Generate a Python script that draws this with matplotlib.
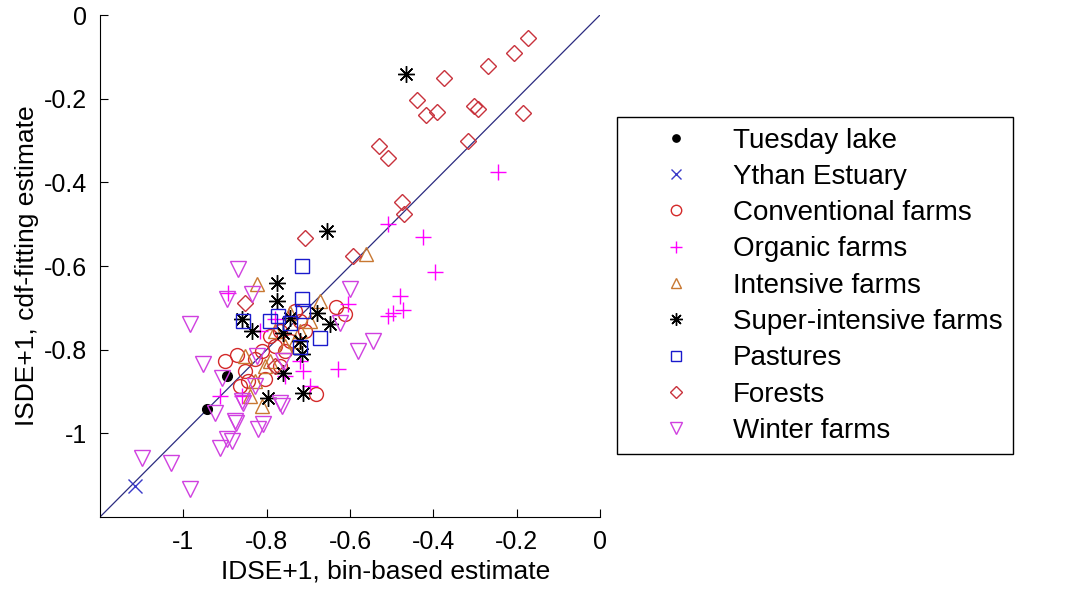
import matplotlib
matplotlib.use("Agg")
from matplotlib import pyplot as plt
import numpy as np

plt.rcParams['font.family'] = ['Liberation Sans', 'DejaVu Sans']

# (bin-based estimate, cdf-fitting estimate) pairs per group
tuesday_x = [-0.942, -0.894]
tuesday_y = [-0.942, -0.863]

ythan_x = [-1.117]
ythan_y = [-1.127]

conv_x = [-0.899, -0.870, -0.851, -0.827, -0.811, -0.791, -0.767, -0.743, -0.719, -0.707,
          -0.731, -0.681, -0.633, -0.612, -0.844, -0.803, -0.767, -0.863, -0.779, -0.755]
conv_y = [-0.827, -0.813, -0.851, -0.823, -0.803, -0.767, -0.755, -0.779, -0.731, -0.755,
          -0.707, -0.906, -0.698, -0.715, -0.875, -0.871, -0.839, -0.887, -0.791, -0.803]

org_x = [-0.245, -0.424, -0.508, -0.396, -0.480, -0.472, -0.508, -0.496, -0.628, -0.712,
         -0.604, -0.892, -0.719, -0.815, -0.779, -0.859, -0.695, -0.755, -0.911]
org_y = [-0.376, -0.530, -0.499, -0.614, -0.671, -0.705, -0.719, -0.712, -0.847, -0.851,
         -0.691, -0.664, -0.827, -0.755, -0.727, -0.911, -0.887, -0.863, -0.911]

int_x = [-0.823, -0.561, -0.811, -0.827, -0.791, -0.755, -0.719, -0.695, -0.743, -0.803,
         -0.779, -0.851, -0.731, -0.839, -0.671]
int_y = [-0.643, -0.571, -0.935, -0.875, -0.827, -0.791, -0.755, -0.731, -0.712, -0.839,
         -0.755, -0.815, -0.779, -0.911, -0.683]

sup_x = [-0.465, -0.655, -0.775, -0.775, -0.859, -0.835, -0.760, -0.679, -0.647, -0.743,
         -0.715, -0.712, -0.760, -0.796, -0.719]
sup_y = [-0.141, -0.516, -0.640, -0.683, -0.727, -0.755, -0.760, -0.712, -0.739, -0.724,
         -0.811, -0.904, -0.856, -0.916, -0.779]

past_x = [-0.715, -0.715, -0.712, -0.671, -0.719, -0.856, -0.791, -0.772, -0.743]
past_y = [-0.600, -0.679, -0.707, -0.772, -0.794, -0.731, -0.731, -0.719, -0.736]

for_x = [-0.173, -0.206, -0.269, -0.374, -0.439, -0.417, -0.391, -0.302, -0.293, -0.185,
         -0.317, -0.530, -0.508, -0.475, -0.470, -0.707, -0.592, -0.851, -0.779]
for_y = [-0.055, -0.091, -0.122, -0.151, -0.204, -0.240, -0.233, -0.218, -0.225, -0.235,
         -0.300, -0.312, -0.341, -0.448, -0.475, -0.532, -0.576, -0.688, -0.839]

win_x = [-0.868, -0.983, -0.952, -0.894, -0.906, -1.098, -1.029, -0.983, -0.873, -0.911,
         -0.894, -0.882, -0.820, -0.808, -0.923, -0.856, -0.763, -0.600, -0.624, -0.544,
         -0.580, -0.859, -0.875, -0.827, -0.767, -0.760, -0.823, -0.835]
win_y = [-0.607, -0.739, -0.835, -0.679, -0.868, -1.060, -1.072, -1.134, -0.976, -1.036,
         -1.014, -1.019, -0.990, -0.978, -0.952, -0.928, -0.935, -0.655, -0.736, -0.779,
         -0.803, -0.923, -0.971, -0.887, -0.928, -0.827, -0.815, -0.667]

ticks = [-1, -0.8, -0.6, -0.4, -0.2, 0]
tick_labels = ['-1', '-0.8', '-0.6', '-0.4', '-0.2', '0']

fig = plt.figure(figsize=(10.82, 5.91), dpi=100)
ax = fig.add_axes([0.0924, 0.1252, 0.4621, 0.8494])

ms = 10
star = (8, 2, 0)  # matlab-style asterisk
ax.plot([-1.2, 0], [-1.2, 0], color='#2b2b80', lw=0.9, zorder=1)
ax.plot(tuesday_x, tuesday_y, 'o', color='black', mfc='black', ms=7, label='Tuesday lake')
ax.plot(ythan_x, ythan_y, 'x', color='#3a3ac8', ms=ms, mew=1, label='Ythan Estuary')
ax.plot(conv_x, conv_y, 'o', color='#d42a2a', mfc='none', ms=ms, mew=1, label='Conventional farms')
ax.plot(org_x, org_y, '+', color='#ff00ff', ms=ms + 2, mew=1, label='Organic farms')
ax.plot(int_x, int_y, '^', color='#c87832', mfc='none', ms=ms, mew=1, label='Intensive farms')
ax.plot(sup_x, sup_y, marker=star, ls='none', color='black', ms=ms + 2, mew=1, label='Super-intensive farms')
ax.plot(past_x, past_y, 's', color='#1a1acc', mfc='none', ms=ms, mew=1, label='Pastures')
ax.plot(for_x, for_y, 'D', color='#c8323c', mfc='none', ms=ms - 2, mew=1, label='Forests')
ax.plot(win_x, win_y, 'v', color='#d040e0', mfc='none', ms=ms + 1, mew=1, label='Winter farms')

ax.set_xlim(-1.2, 0)
ax.set_ylim(-1.2, 0)
ax.set_xticks(ticks)
ax.set_xticklabels(tick_labels)
ax.set_yticks(ticks)
ax.set_yticklabels(tick_labels)
ax.tick_params(direction='in', labelsize=18, length=6, pad=9)
ax.spines['top'].set_visible(False)
ax.spines['right'].set_visible(False)
ax.set_xlabel('IDSE+1, bin-based estimate', fontsize=19)
ax.set_ylabel('ISDE+1, cdf-fitting estimate', fontsize=19, labelpad=4)
ax.xaxis.set_label_coords(0.572, -0.085)

leg = ax.legend(loc='upper left', bbox_to_anchor=(0.570, 0.802), bbox_transform=fig.transFigure,
                borderaxespad=0, fancybox=False, edgecolor='black', framealpha=1,
                fontsize=20, markerscale=0.75, labelspacing=0.37, handletextpad=0.3,
                borderpad=0.38, handlelength=3.5)
leg.get_frame().set_linewidth(1)

fig.savefig('out.png', dpi=100)
